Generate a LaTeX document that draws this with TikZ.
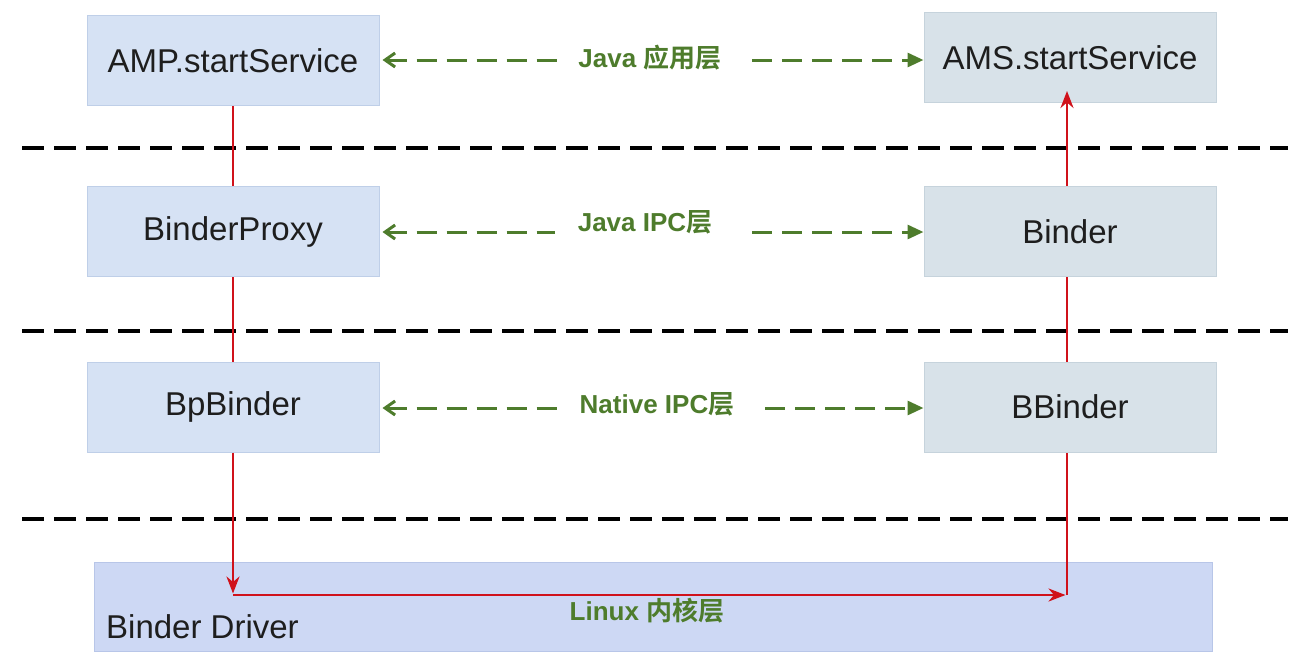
\documentclass[tikz,border=0pt]{standalone}
\usepackage{fontspec}
\setmainfont{Liberation Sans}
\newfontfamily\cjkb{Noto Sans CJK SC}[BoldFont={* Bold}]
\usetikzlibrary{arrows.meta}
\definecolor{leftfill}{HTML}{D6E2F4}
\definecolor{leftdraw}{HTML}{BFCFE8}
\definecolor{rightfill}{HTML}{D8E2E9}
\definecolor{rightdraw}{HTML}{C6D3DC}
\definecolor{drvfill}{HTML}{CDD8F4}
\definecolor{drvdraw}{HTML}{B8C6E8}
\definecolor{lblgreen}{HTML}{4E7C2C}
\definecolor{linkred}{HTML}{D0121B}
\definecolor{txt}{HTML}{1E1E1E}
\tikzset{
  lbox/.style={draw=leftdraw, fill=leftfill, line width=1pt, minimum width=292pt, minimum height=90pt, inner sep=0pt, text=txt, font=\fontsize{33}{38}\selectfont},
  rbox/.style={draw=rightdraw, fill=rightfill, line width=1pt, minimum width=292pt, minimum height=90pt, inner sep=0pt, text=txt, font=\fontsize{33}{38}\selectfont},
  layerlbl/.style={text=lblgreen, inner sep=0pt, font=\fontsize{26}{30}\selectfont\bfseries},
  garrow/.style={draw=lblgreen, line width=3pt, dash pattern=on 20pt off 10pt},
  sep/.style={draw=black, line width=3.2pt, dash pattern=on 22pt off 10pt},
  redline/.style={draw=linkred, line width=2.6pt},
}
\newcommand{\zh}[1]{{\cjkb\bfseries #1}}
\begin{document}
\begin{tikzpicture}[x=1pt,y=-1pt]
\useasboundingbox (0,0) rectangle (1291,656);
% separators
\draw[sep] (22,148) -- (1288,148);
\draw[sep] (22,331) -- (1288,331);
\draw[sep] (22,519) -- (1288,519);
% driver box
\node[draw=drvdraw, fill=drvfill, line width=1pt, minimum width=1118pt, minimum height=89pt, inner sep=0pt] (drv) at (653,606.5) {};
\node[anchor=west, text=txt, font=\fontsize{33}{38}\selectfont, inner sep=0pt] (drvtxt) at (106,627) {Binder Driver};
% red path (behind boxes)
\coordinate (p1) at (233,595);
\coordinate (p2) at (1067,595);
\coordinate (amsin) at (1067,91);
\draw[redline] (233,60) -- (233,560);
\draw[redline] (1067,60) -- (1067,560);
% boxes
\node[lbox] (amp) at (233,60.5) {AMP.startService};
\node[lbox] (bp) at (233,231.5) {BinderProxy};
\node[lbox] (bpb) at (233,407) {BpBinder};
\node[rbox] (ams) at (1070,57.5) {AMS.startService};
\node[rbox] (bnd) at (1070,231.5) {Binder};
\node[rbox] (bb) at (1070,407) {BBinder};
% red arrows
\draw[redline, -{Stealth[length=17pt,width=13pt]}] (bpb.south -| p1) -- ([yshift=1.5pt]p1);
\draw[redline, -{Stealth[length=17pt,width=13pt]}] (p1) -- ([xshift=-1.5pt]p2);
\draw[redline] (p2) -- (bb.south -| p2);
\draw[redline, -{Stealth[length=17pt,width=13pt]}] (bnd.north -| p2) -- (amsin);
\draw[redline] (bb.north -| p2) -- (bnd.south -| p2);
% layer labels
\node[layerlbl] (l1) at (650,58) {Java \zh{应用层}};
\node[layerlbl] (l2) at (645,222) {Java IPC\zh{层}};
\node[layerlbl] (l3) at (657,404) {Native IPC\zh{层}};
\node[layerlbl] (l4) at (647,611) {Linux \zh{内核层}};
% green arrows
\coordinate (g1a) at (557,60); \coordinate (g1b) at (752,60);
\coordinate (g2a) at (555,232); \coordinate (g2b) at (752,232);
\coordinate (g3a) at (557,408); \coordinate (g3b) at (765,408);
\draw[garrow, {Straight Barb[length=10pt,width=14pt,line width=3pt]}-] ([xshift=3pt]amp.east |- g1a) -- (g1a);
\draw[garrow, -{Triangle[length=16pt,width=14pt]}] (g1b) -- (ams.west |- g1b);
\draw[garrow, {Straight Barb[length=10pt,width=14pt,line width=3pt]}-] ([xshift=3pt]bp.east |- g2a) -- (g2a);
\draw[garrow, -{Triangle[length=16pt,width=14pt]}] (g2b) -- (bnd.west |- g2b);
\draw[garrow, {Straight Barb[length=10pt,width=14pt,line width=3pt]}-] ([xshift=3pt]bpb.east |- g3a) -- (g3a);
\draw[garrow, -{Triangle[length=16pt,width=14pt]}] (g3b) -- (bb.west |- g3b);
\end{tikzpicture}
\end{document}
